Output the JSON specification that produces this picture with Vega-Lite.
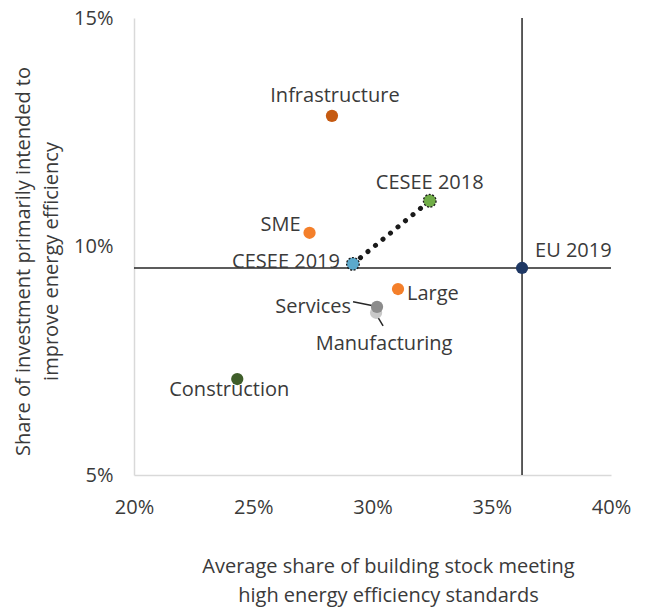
{
  "$schema": "https://vega.github.io/schema/vega-lite/v6.json",
  "width": 477,
  "height": 457,
  "autosize": {"type": "none"},
  "padding": {"left": 134, "top": 18, "right": 34, "bottom": 134},
  "background": "white",
  "config": {
    "view": {"stroke": null},
    "font": "Open Sans",
    "text": {"font": "Open Sans", "fontSize": 20, "color": "#3a3a3a"}
  },
  "data": {
    "values": [
      {"name": "Infrastructure", "x": 0.2830, "y": 0.1286, "color": "#c55a11"},
      {"name": "CESEE 2018", "x": 0.3240, "y": 0.1100, "color": "#70ad47"},
      {"name": "SME", "x": 0.2736, "y": 0.1030, "color": "#f47f2a"},
      {"name": "CESEE 2019", "x": 0.2918, "y": 0.0962, "color": "#5ba9cc"},
      {"name": "EU 2019", "x": 0.3627, "y": 0.0953, "color": "#1f3864"},
      {"name": "Large", "x": 0.3107, "y": 0.0907, "color": "#f47f2a"},
      {"name": "Manufacturing", "x": 0.3015, "y": 0.0855, "color": "#c8c8c8"},
      {"name": "Services", "x": 0.3019, "y": 0.0868, "color": "#8c8c8c"},
      {"name": "Construction", "x": 0.2433, "y": 0.0710, "color": "#3f5e2a"}
    ]
  },
  "encoding": {
    "x": {
      "field": "x", "type": "quantitative",
      "scale": {"domain": [0.2, 0.4], "nice": false, "zero": false},
      "axis": {
        "format": ".0%", "values": [0.2, 0.25, 0.3, 0.35, 0.4], "labelFlush": false,
        "grid": false, "ticks": false, "domainColor": "#d9d9d9", "domainWidth": 1.5,
        "labelFontSize": 20, "labelColor": "#3a3a3a", "labelPadding": 22, "labelFont": "Open Sans",
        "title": ["Average share of building stock meeting", "high energy efficiency standards"],
        "titleFontSize": 20, "titleFontWeight": "normal", "titleColor": "#3a3a3a", "titleFont": "Open Sans",
        "titleLineHeight": 29, "titleX": 254, "titleY": 81, "titleBaseline": "top", "titleAlign": "center"
      }
    },
    "y": {
      "field": "y", "type": "quantitative",
      "scale": {"domain": [0.05, 0.15], "nice": false, "zero": false},
      "axis": {
        "format": ".0%", "values": [0.05, 0.1, 0.15], "labelFlush": false,
        "grid": false, "ticks": false, "domainColor": "#d9d9d9", "domainWidth": 1.5,
        "labelFontSize": 20, "labelColor": "#3a3a3a", "labelPadding": 21, "labelFont": "Open Sans",
        "title": ["Share of investment primarily intended to", "improve energy efficiency"],
        "titleFontSize": 20, "titleFontWeight": "normal", "titleColor": "#3a3a3a", "titleFont": "Open Sans",
        "titleLineHeight": 28, "titleAngle": -90, "titleX": -121, "titleY": 243, "titleBaseline": "top", "titleAlign": "center"
      }
    }
  },
  "layer": [
    {
      "transform": [{"filter": "datum.name === 'EU 2019'"}],
      "mark": {"type": "rule", "color": "#262626", "strokeWidth": 1.5},
      "encoding": {"x": {"value": 0}, "x2": {"value": 477}}
    },
    {
      "transform": [{"filter": "datum.name === 'EU 2019'"}],
      "mark": {"type": "rule", "color": "#262626", "strokeWidth": 1.5},
      "encoding": {"y": {"value": 0}, "y2": {"value": 457}}
    },
    {
      "transform": [{"filter": "datum.name === 'CESEE 2018' || datum.name === 'CESEE 2019'"}],
      "mark": {"type": "line", "color": "#1a1a1a", "strokeWidth": 5, "strokeDash": [0.1, 9.6], "strokeCap": "round"},
      "encoding": {"order": {"field": "x", "type": "quantitative"}}
    },
    {
      "transform": [{"filter": "datum.name === 'Services'"}],
      "mark": {"type": "rule", "color": "#262626", "strokeWidth": 1.5, "xOffset": -24, "yOffset": -5, "x2Offset": -4, "y2Offset": -1},
      "encoding": {"x2": {"field": "x"}, "y2": {"field": "y"}}
    },
    {
      "transform": [{"filter": "datum.name === 'Manufacturing'"}],
      "mark": {"type": "rule", "color": "#262626", "strokeWidth": 1.5, "xOffset": 1, "yOffset": 3, "x2Offset": 7, "y2Offset": 13},
      "encoding": {"x2": {"field": "x"}, "y2": {"field": "y"}}
    },
    {
      "transform": [{"filter": "datum.name !== 'CESEE 2018' && datum.name !== 'CESEE 2019'"}],
      "mark": {"type": "point", "filled": true, "opacity": 1, "size": 150},
      "encoding": {"color": {"field": "color", "type": "nominal", "scale": null}}
    },
    {
      "transform": [{"filter": "datum.name === 'CESEE 2018' || datum.name === 'CESEE 2019'"}],
      "mark": {"type": "point", "filled": true, "opacity": 1, "size": 160, "stroke": "#1a1a1a", "strokeWidth": 1.3, "strokeDash": [2, 1.5], "strokeOpacity": 1},
      "encoding": {"fill": {"field": "color", "type": "nominal", "scale": null}}
    },
    {
      "transform": [{"filter": "datum.name === 'Infrastructure'"}],
      "mark": {"type": "text", "align": "center", "baseline": "middle", "dx": 3, "dy": -20},
      "encoding": {"text": {"field": "name"}}
    },
    {
      "transform": [{"filter": "datum.name === 'CESEE 2018'"}],
      "mark": {"type": "text", "align": "center", "baseline": "middle", "dy": -18},
      "encoding": {"text": {"field": "name"}}
    },
    {
      "transform": [{"filter": "datum.name === 'SME'"}],
      "mark": {"type": "text", "align": "right", "baseline": "middle", "dx": -9, "dy": -8},
      "encoding": {"text": {"field": "name"}}
    },
    {
      "transform": [{"filter": "datum.name === 'CESEE 2019'"}],
      "mark": {"type": "text", "align": "right", "baseline": "middle", "dx": -13, "dy": -2},
      "encoding": {"text": {"field": "name"}}
    },
    {
      "transform": [{"filter": "datum.name === 'Services'"}],
      "mark": {"type": "text", "align": "right", "baseline": "middle", "dx": -26, "dy": 0},
      "encoding": {"text": {"field": "name"}}
    },
    {
      "transform": [{"filter": "datum.name === 'EU 2019'"}],
      "mark": {"type": "text", "align": "left", "baseline": "middle", "dx": 13, "dy": -17},
      "encoding": {"text": {"field": "name"}}
    },
    {
      "transform": [{"filter": "datum.name === 'Large'"}],
      "mark": {"type": "text", "align": "left", "baseline": "middle", "dx": 9, "dy": 5},
      "encoding": {"text": {"field": "name"}}
    },
    {
      "transform": [{"filter": "datum.name === 'Manufacturing'"}],
      "mark": {"type": "text", "align": "center", "baseline": "middle", "dx": 8, "dy": 31},
      "encoding": {"text": {"field": "name"}}
    },
    {
      "transform": [{"filter": "datum.name === 'Construction'"}],
      "mark": {"type": "text", "align": "center", "baseline": "middle", "dx": -8, "dy": 11},
      "encoding": {"text": {"field": "name"}}
    }
  ]
}
